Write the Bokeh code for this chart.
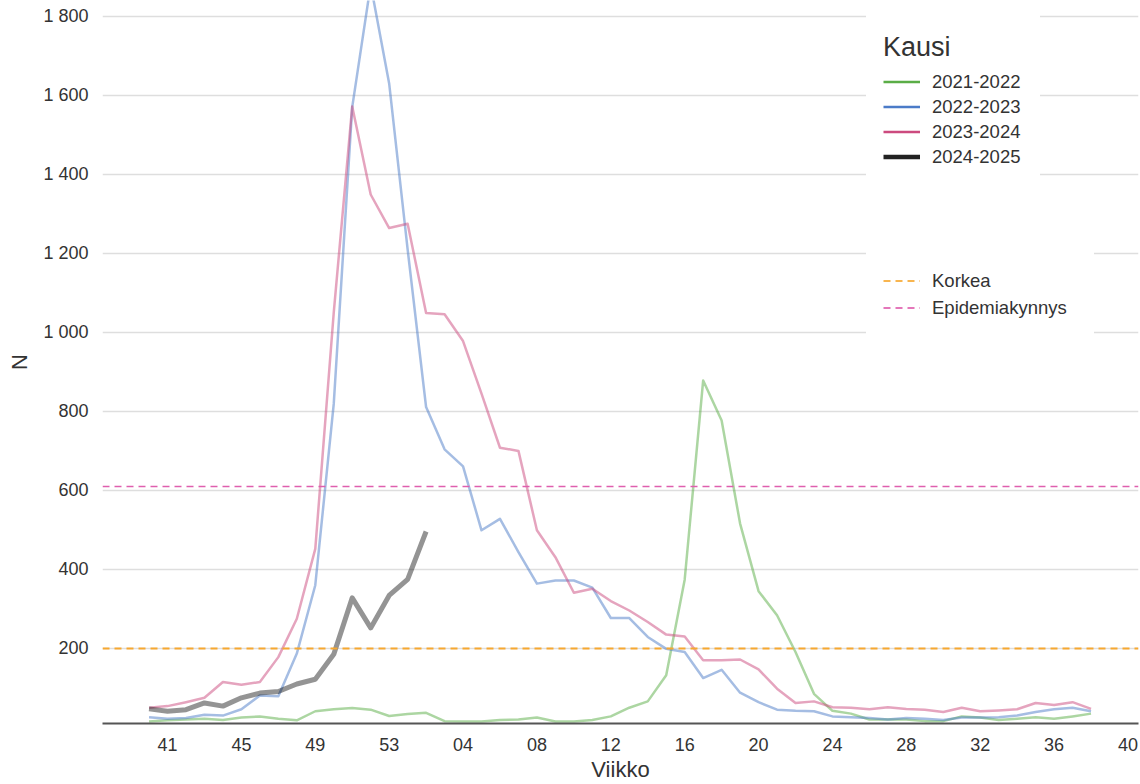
from bokeh.plotting import figure
from bokeh.models import Range1d, FixedTicker, Legend, LegendItem, Span
from bokeh.embed import file_html
from bokeh.resources import INLINE

# Week labels of the season (week 40 .. week 53, then 01 .. 40)
weeks = [f"{w:02d}" for w in list(range(40, 54)) + list(range(1, 41))]

seasons = ["2021-2022", "2022-2023", "2023-2024", "2024-2025"]

s2021 = [15, 18, 20, 22, 19, 25, 28, 22, 18, 41, 46, 49, 45, 29, 34, 37, 16, 15, 15, 19,
         20, 25, 15, 15, 19, 28, 50, 66, 132, 374, 878, 777, 516, 345, 284, 191, 85, 42, 35, 20,
         20, 20, 16, 16, 28, 25, 19, 22, 26, 22, 28, 35]
s2022 = [26, 22, 24, 32, 30, 46, 81, 79, 187, 360, 819, 1570, 1880, 1630, 1210, 811, 704, 661, 499, 528,
         444, 364, 372, 372, 354, 277, 277, 229, 199, 191, 125, 146, 88, 64, 45, 42, 41, 28, 26, 24,
         20, 24, 22, 19, 25, 25, 26, 30, 39, 46, 50, 41]
s2023 = [50, 54, 64, 75, 115, 108, 115, 178, 275, 452, 1050, 1572, 1349, 1264, 1275, 1049, 1046, 978, 845, 708,
         700, 499, 431, 341, 351, 320, 296, 267, 235, 230, 170, 170, 172, 147, 98, 62, 66, 51, 50, 46,
         51, 47, 45, 39, 50, 41, 43, 46, 62, 57, 64, 47]
s2024 = [47, 41, 45, 62, 54, 75, 87, 91, 110, 122, 185, 328, 252, 334, 375, 496]

thresholds = ["Korkea", "Epidemiakynnys"]
threshold_values = [200, 610]

y_ticks = [200, 400, 600, 800, 1000, 1200, 1400, 1600, 1800]

season_colors = ["#5aad46", "#4b7bc8", "#cc4a7e", "#222222"]
threshold_colors = ["#f7a830", "#df5fae"]

FONT = "Liberation Sans"
TXT = "#333333"
NAN = float("nan")

p = figure(width=1140, height=784, output_backend="svg", toolbar_location=None,
           title=None,
           x_range=Range1d(-2.52, 53.57), y_range=Range1d(10, 1840),
           min_border_left=102, min_border_right=2, min_border_top=0, min_border_bottom=61)
p.outline_line_color = None
p.background_fill_color = "white"

# axes
tick_idx = list(range(1, len(weeks), 4))
p.xaxis.ticker = FixedTicker(ticks=tick_idx)
p.xaxis.major_label_overrides = {i: weeks[i] for i in tick_idx}
p.yaxis.ticker = FixedTicker(ticks=y_ticks)
p.yaxis.major_label_overrides = {v: f"{v:,}".replace(",", " ") for v in y_ticks}

for ax in (p.xaxis[0], p.yaxis[0]):
    ax.major_tick_line_color = None
    ax.minor_tick_line_color = None
    ax.major_tick_out = 0
    ax.major_tick_in = 0
    ax.minor_tick_out = 0
    ax.minor_tick_in = 0
    ax.major_label_text_font = FONT
    ax.major_label_text_font_size = "18px"
    ax.major_label_text_color = TXT
    ax.axis_label_text_font = FONT
    ax.axis_label_text_font_size = "22px"
    ax.axis_label_text_font_style = "normal"
    ax.axis_label_text_color = TXT

p.xaxis.axis_label = "Viikko"
p.yaxis.axis_label = "N"
p.xaxis.axis_line_color = "#555555"
p.xaxis.axis_line_width = 2
p.yaxis.axis_line_color = None
p.xaxis.major_label_standoff = 14
p.xaxis.axis_label_standoff = 3
p.yaxis.major_label_standoff = 14
p.yaxis.axis_label_standoff = 8

p.xgrid.grid_line_color = None
p.ygrid.grid_line_color = "#dedede"
p.ygrid.grid_line_width = 1.5

# threshold lines
for val, col, w in zip(threshold_values, threshold_colors, [2, 1.5]):
    p.add_layout(Span(location=val, dimension="width", line_color=col,
                      line_width=w, line_dash="7 5"))

# season lines
series = [s2021, s2022, s2023]
for data, col in zip(series, season_colors[:3]):
    p.line(x=list(range(len(data))), y=data, line_color=col, line_alpha=0.5,
           line_width=2.5, line_join="round")
p.line(x=list(range(len(s2024))), y=s2024, line_color="#000000", line_alpha=0.42,
       line_width=5, line_join="round")

# legend-only renderers (full colour, no visible data)
items1 = []
for lab, col, w in zip(seasons, season_colors, [2.5, 2.5, 2.5, 4.5]):
    r = p.line(x=[NAN, NAN], y=[NAN, NAN], line_color=col, line_width=w)
    items1.append(LegendItem(label=lab, renderers=[r]))
items2 = []
for lab, col, w in zip(thresholds, threshold_colors, [2, 2]):
    r = p.line(x=[NAN, NAN], y=[NAN, NAN], line_color=col, line_width=w,
               line_dash="7 5", line_alpha=0.85)
    items2.append(LegendItem(label=lab, renderers=[r]))

common = dict(label_text_font=FONT, label_text_font_size="18.5px", label_text_color=TXT,
              glyph_width=37, glyph_height=25, label_height=25, label_standoff=12,
              padding=17, margin=0, border_line_color="white", border_line_alpha=0.0,
              background_fill_color="white", background_fill_alpha=1.0)

leg1 = Legend(items=items1, title="Kausi", location=(764, 537), spacing=0,
              label_width=91, title_text_font=FONT, title_text_font_size="27px",
              title_text_font_style="normal", title_text_color=TXT, title_standoff=6,
              **common)
leg2 = Legend(items=items2, location=(764, 386), spacing=2, label_width=145, **common)
p.add_layout(leg1)
p.add_layout(leg2)

open("out.html", "w").write(file_html(p, INLINE))
